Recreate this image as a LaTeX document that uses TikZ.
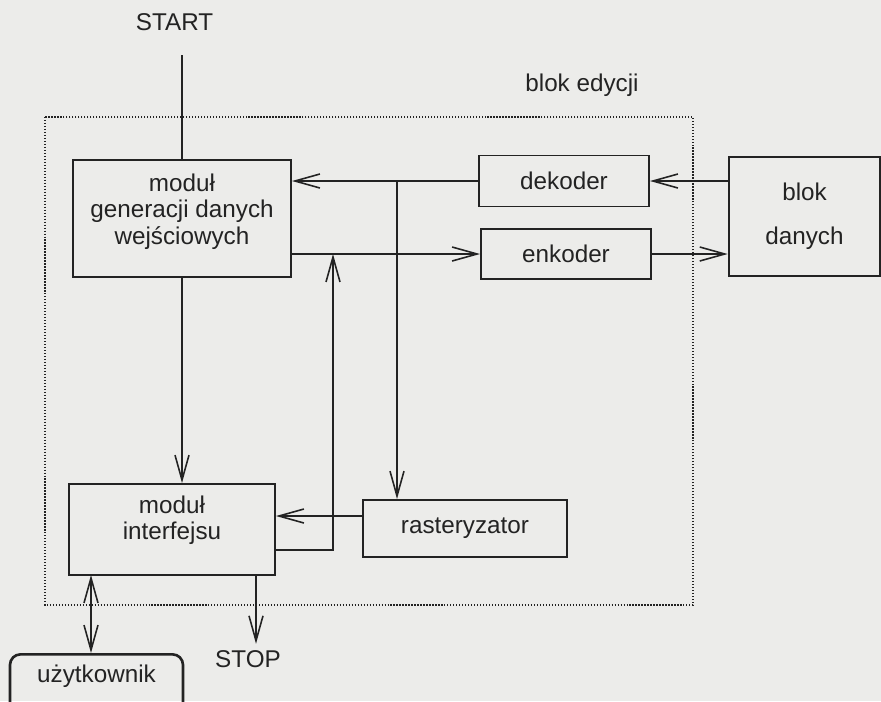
\documentclass[tikz,border=0pt]{standalone}
\usepackage{fontspec}
\setmainfont{Liberation Sans}
\usetikzlibrary{arrows.meta,positioning,calc}
\definecolor{paper}{RGB}{236,236,234}
\definecolor{ink}{RGB}{35,35,35}

\begin{document}
\begin{tikzpicture}[
	color=ink, line width=0.9pt,
	>={Straight Barb[length=5mm,width=2.8mm]},
	every node/.style={font=\fontsize{13.8}{15}\selectfont},
	box/.style={draw,line width=1.1pt,align=center,inner sep=2pt},
	heavy/.style={box,line width=1.5pt}]
	
	% page
	\fill[paper] (0,0) rectangle (17.62,-14.02);
	\useasboundingbox (0,0) rectangle (17.62,-14.02);
	
	% edit block frame
	\draw[densely dotted,line width=0.7pt] (0.90,-2.34) rectangle (13.86,-12.10);
	\node (ed) at (11.64,-1.70) {blok edycji};
	
	% boxes
	\node[box,minimum width=4.36cm,minimum height=2.34cm,text depth=0.38cm] (gen) at (3.64,-4.37) {moduł\\generacji danych\\wejściowych};
	\node[box,minimum width=3.40cm,minimum height=1.02cm] (dek) at (11.28,-3.62) {dekoder};
	\node[box,minimum width=3.40cm,minimum height=1.00cm] (enk) at (11.32,-5.08) {enkoder};
	\node[heavy,minimum width=3.02cm,minimum height=2.38cm] (dane) at (16.09,-4.33) {blok\\[10pt]danych};
	\node[box,minimum width=4.08cm,minimum height=1.14cm] (rast) at (9.30,-10.57) {rasteryzator};
	\node[box,minimum width=4.12cm,minimum height=1.82cm,text depth=0.46cm] (intf) at (3.44,-10.59) {moduł\\interfejsu};
	\node[heavy,rounded corners=6pt,minimum width=3.46cm,anchor=north,inner ysep=6pt,text depth=1cm] (user) at (1.93,-13.06) {użytkownik};
	
	% start and stop
	\node (start) at (3.49,-0.44) {START};
	\node (stop) at (4.96,-13.18) {STOP};
	
	% free ends
	\coordinate (s) at (3.64,-1.10);
	\coordinate (j) at (7.94,-3.62);
	\coordinate (k) at (6.66,-5.08);
	\coordinate (u) at (1.82,-11.50);
	\coordinate (t) at (5.12,-11.50);
	
	% connectors
	\draw (s) -- (gen.north);
	\draw[->] (gen.south) -- (intf.north -| gen.south);
	\draw[->] (dek.east -| dane.west) -- (dek.east);
	\draw[->] (enk.east) -- (enk.east -| dane.west);
	\draw[->] (dek.west) -- (dek.west -| gen.east);
	\draw[->] (enk.west -| gen.east) -- (enk.west);
	\draw[->] (j) -- (j |- rast.north);
	\draw[->] ([yshift=0.25cm]rast.west) -- ([yshift=0.25cm]rast.west -| intf.east);
	\draw[->] ([yshift=-0.41cm]intf.east) -| (k);
	\draw[<->] (u) -- (u |- user.north);
	\draw[->] (t) -- (t |- stop.north);
\end{tikzpicture}
\end{document}
